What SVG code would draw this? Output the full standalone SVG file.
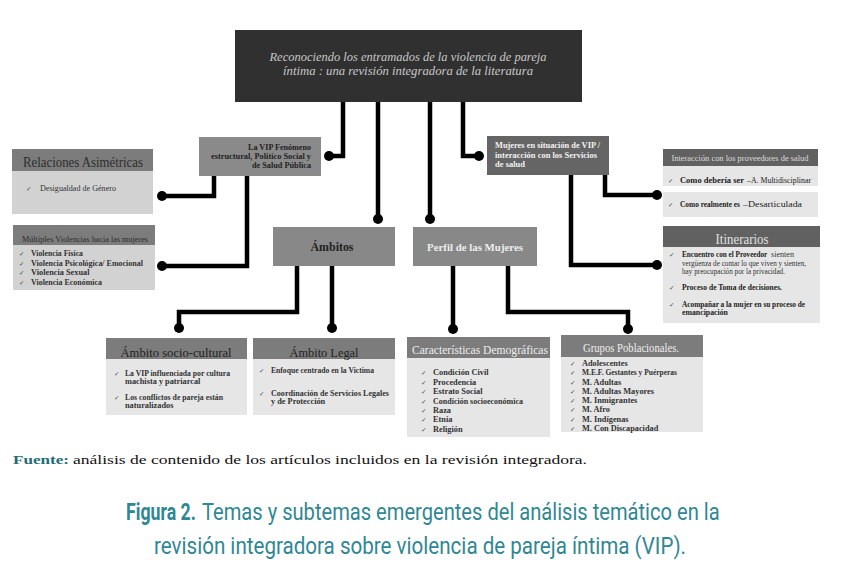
<svg xmlns="http://www.w3.org/2000/svg" width="841" height="568" viewBox="0 0 841 568">
<style>
.t{font-family:"Liberation Serif","DejaVu Serif",serif}
.it{font-family:"Liberation Serif",serif;font-size:8.3px;font-weight:bold;fill:#333}
.ck{font-family:"DejaVu Sans",sans-serif;font-size:6.5px;fill:#444}
.hd{fill:#7c7c7c}
.hdd{fill:#616161}
.bd{fill:#e6e6e6}
.bdl{fill:#d2d2d2}
.ln{fill:none;stroke:#000;stroke-width:4.5;stroke-linejoin:miter}
.cap{font-family:Roboto,"Liberation Sans",sans-serif;font-size:24px;fill:#2f8794}
</style>
<rect width="841" height="568" fill="#fff"/>

<g id="connectors">
<path class="ln" d="M343,102V156H329"/>
<path class="ln" d="M378,102V219"/>
<path class="ln" d="M430,102V219"/>
<path class="ln" d="M463,102V156H479"/>
<path class="ln" d="M214,175V196H162"/>
<path class="ln" d="M247,175V266H162"/>
<path class="ln" d="M605,175V195H657"/>
<path class="ln" d="M571,175V265H657"/>
<path class="ln" d="M297,266V312H179V328"/>
<path class="ln" d="M332,266V328"/>
<path class="ln" d="M453,266V329"/>
<path class="ln" d="M508,266V312H628V329"/>
<g fill="#000">
<circle cx="329" cy="156" r="5"/>
<circle cx="378" cy="219" r="5"/>
<circle cx="430" cy="219" r="5"/>
<circle cx="479" cy="156" r="5"/>
<circle cx="162" cy="196" r="5"/>
<circle cx="162" cy="266" r="5"/>
<circle cx="657" cy="195" r="5"/>
<circle cx="657" cy="265" r="5"/>
<circle cx="179" cy="328" r="5"/>
<circle cx="332" cy="328" r="5"/>
<circle cx="453" cy="329" r="5"/>
<circle cx="628" cy="329" r="5"/>
</g>
</g>

<g id="title">
<rect x="235" y="30" width="347" height="72" fill="#303030"/>
<text class="t" x="408" y="61" text-anchor="middle" font-size="13" font-style="italic" fill="#c8c8c8" textLength="277" lengthAdjust="spacingAndGlyphs">Reconociendo los entramados de la violencia de pareja</text>
<text class="t" x="408" y="75" text-anchor="middle" font-size="13" font-style="italic" fill="#c8c8c8" textLength="250" lengthAdjust="spacingAndGlyphs">íntima : una revisión integradora de la literatura</text>
</g>

<g id="vip">
<rect x="199" y="137" width="122" height="39" fill="#8a8a8a"/>
<g class="t" font-size="8.5" font-weight="bold" fill="#222" text-anchor="end">
<text x="311" y="150" textLength="63" lengthAdjust="spacingAndGlyphs">La VIP Fenómeno</text>
<text x="311" y="159" textLength="100" lengthAdjust="spacingAndGlyphs">estructural, Político Social y</text>
<text x="311" y="168" textLength="59" lengthAdjust="spacingAndGlyphs">de Salud Pública</text>
</g>
</g>

<g id="mujeres">
<rect x="487" y="136" width="122" height="39" fill="#656565"/>
<g class="t" font-size="8.5" font-weight="bold" fill="#f2f2f2">
<text x="495" y="148" textLength="105" lengthAdjust="spacingAndGlyphs">Mujeres en situación de VIP /</text>
<text x="495" y="158" textLength="102" lengthAdjust="spacingAndGlyphs">interacción con los Servicios</text>
<text x="495" y="167">de salud</text>
</g>
</g>

<g id="relaciones">
<rect class="hd" x="12" y="149" width="141" height="22"/>
<rect class="bdl" x="12" y="171" width="141" height="43"/>
<text class="t" x="83" y="167" text-anchor="middle" font-size="14" fill="#2e2e2e" textLength="120" lengthAdjust="spacingAndGlyphs">Relaciones Asimétricas</text>
<text class="ck" x="26" y="191">✓</text>
<text class="t" x="40" y="191" font-size="8.3" fill="#333" textLength="76" lengthAdjust="spacingAndGlyphs">Desigualdad de Género</text>
</g>

<g id="multiples">
<rect class="hd" x="13" y="225" width="142" height="20"/>
<rect class="bdl" x="13" y="245" width="142" height="45"/>
<text class="t" x="85" y="242" text-anchor="middle" font-size="8.5" fill="#2e2e2e" textLength="126" lengthAdjust="spacingAndGlyphs">Múltiples Violencias hacia las mujeres</text>
<text class="ck" x="19" y="256">✓</text><text class="it" x="31" y="256" textLength="52" lengthAdjust="spacingAndGlyphs">Violencia Física</text>
<text class="ck" x="19" y="266">✓</text><text class="it" x="31" y="266" textLength="112" lengthAdjust="spacingAndGlyphs">Violencia Psicológica/ Emocional</text>
<text class="ck" x="19" y="275">✓</text><text class="it" x="31" y="275">Violencia Sexual</text>
<text class="ck" x="19" y="285">✓</text><text class="it" x="31" y="285" textLength="71" lengthAdjust="spacingAndGlyphs">Violencia Económica</text>
</g>

<g id="ambitos">
<rect x="273" y="227" width="122" height="39" fill="#888"/>
<text class="t" x="332" y="251" text-anchor="middle" font-size="11.5" font-weight="bold" fill="#222" textLength="43" lengthAdjust="spacingAndGlyphs">Ámbitos</text>
</g>

<g id="perfil">
<rect x="413" y="227" width="124" height="39" fill="#888"/>
<text class="t" x="475" y="251" text-anchor="middle" font-size="11" font-weight="bold" fill="#eee" textLength="96" lengthAdjust="spacingAndGlyphs">Perfil de las Mujeres</text>
</g>

<g id="interaccion">
<rect class="hdd" x="663" y="149" width="155" height="17"/>
<rect class="bd" x="663" y="166" width="155" height="20"/>
<rect class="bd" x="663" y="192" width="155" height="25"/>
<text class="t" x="740" y="161" text-anchor="middle" font-size="8" fill="#dcdcdc" textLength="137" lengthAdjust="spacingAndGlyphs">Interacción con los  proveedores de salud</text>
<text class="ck" x="668" y="183">✓</text>
<text class="t" x="680" y="183" font-size="8.3" font-weight="bold" fill="#222" textLength="64" lengthAdjust="spacingAndGlyphs">Como debería ser</text>
<text class="t" x="747" y="183" font-size="8.3" fill="#222" textLength="64" lengthAdjust="spacingAndGlyphs">–A. Multidisciplinar</text>
<text class="ck" x="668" y="207">✓</text>
<text class="t" x="680" y="207" font-size="8.3" font-weight="bold" fill="#222" textLength="60" lengthAdjust="spacingAndGlyphs">Como realmente es</text>
<text class="t" x="743" y="207" font-size="8.3" fill="#222" textLength="59" lengthAdjust="spacingAndGlyphs">–Desarticulada</text>
</g>

<g id="itinerarios">
<rect class="hdd" x="663" y="226" width="157" height="21"/>
<rect class="bd" x="663" y="247" width="157" height="76"/>
<text class="t" x="742" y="244" text-anchor="middle" font-size="15" fill="#e2e2e2" textLength="53" lengthAdjust="spacingAndGlyphs">Itinerarios</text>
<text class="ck" x="669" y="257">✓</text>
<text class="t" transform="translate(682,257) scale(0.82,1)" font-size="7.8" font-weight="bold" fill="#222" textLength="104" lengthAdjust="spacingAndGlyphs">Encuentro con el Proveedor</text>
<text class="t" x="771" y="257" font-size="7.8" fill="#333" textLength="23" lengthAdjust="spacingAndGlyphs">sienten</text>
<text class="t" x="682" y="266" font-size="7.8" fill="#333" textLength="124" lengthAdjust="spacingAndGlyphs">vergüenza de contar lo que viven y sienten,</text>
<text class="t" x="682" y="274" font-size="7.8" fill="#333" textLength="103" lengthAdjust="spacingAndGlyphs">hay preocupación por la privacidad.</text>
<text class="ck" x="669" y="290">✓</text>
<text class="t" x="682" y="290" font-size="7.8" font-weight="bold" fill="#222" textLength="100" lengthAdjust="spacingAndGlyphs">Proceso de Toma de decisiones.</text>
<text class="ck" x="669" y="307">✓</text>
<text class="t" x="682" y="307" font-size="7.8" font-weight="bold" fill="#222" textLength="123" lengthAdjust="spacingAndGlyphs">Acompañar a la mujer en su proceso de</text>
<text class="t" x="682" y="315" font-size="7.8" font-weight="bold" fill="#222">emancipación</text>
</g>

<g id="sociocultural">
<rect class="hd" x="106" y="338" width="141" height="21"/>
<rect class="bd" x="106" y="359" width="141" height="56"/>
<text class="t" x="176" y="357" text-anchor="middle" font-size="13" fill="#222" textLength="111" lengthAdjust="spacingAndGlyphs">Ámbito socio-cultural</text>
<text class="ck" x="114" y="376">✓</text>
<text class="it" x="125" y="376" textLength="105" lengthAdjust="spacingAndGlyphs">La VIP influenciada por cultura</text>
<text class="it" x="125" y="384">machista y patriarcal</text>
<text class="ck" x="114" y="400">✓</text>
<text class="it" x="125" y="400" textLength="98" lengthAdjust="spacingAndGlyphs">Los conflictos de pareja están</text>
<text class="it" x="125" y="408">naturalizados</text>
</g>

<g id="legal">
<rect class="hd" x="253" y="338" width="142" height="21"/>
<rect class="bd" x="253" y="359" width="142" height="56"/>
<text class="t" x="324" y="357" text-anchor="middle" font-size="13" fill="#222" textLength="69" lengthAdjust="spacingAndGlyphs">Ámbito Legal</text>
<text class="ck" x="259" y="373">✓</text>
<text class="it" x="271" y="373" textLength="103" lengthAdjust="spacingAndGlyphs">Enfoque centrado en la Victima</text>
<text class="ck" x="259" y="396">✓</text>
<text class="it" x="271" y="396" textLength="118" lengthAdjust="spacingAndGlyphs">Coordinación de Servicios Legales</text>
<text class="it" x="271" y="404">y de Protección</text>
</g>

<g id="caracteristicas">
<rect class="hd" x="407" y="337" width="143" height="21"/>
<rect class="bd" x="407" y="358" width="143" height="79"/>
<text class="t" x="480" y="354" text-anchor="middle" font-size="12" fill="#eee" textLength="136" lengthAdjust="spacingAndGlyphs">Características Demográficas</text>
<text class="ck" x="421" y="375">✓</text><text class="it" x="433" y="375">Condición Civil</text>
<text class="ck" x="421" y="385">✓</text><text class="it" x="433" y="385">Procedencia</text>
<text class="ck" x="421" y="394">✓</text><text class="it" x="433" y="394">Estrato Social</text>
<text class="ck" x="421" y="404">✓</text><text class="it" x="433" y="404" textLength="90" lengthAdjust="spacingAndGlyphs">Condición socioeconómica</text>
<text class="ck" x="421" y="413">✓</text><text class="it" x="433" y="413">Raza</text>
<text class="ck" x="421" y="422">✓</text><text class="it" x="433" y="422">Etnia</text>
<text class="ck" x="421" y="432">✓</text><text class="it" x="433" y="432">Religión</text>
</g>

<g id="grupos">
<rect class="hd" x="561" y="335" width="142" height="22"/>
<rect class="bd" x="561" y="357" width="142" height="75"/>
<text class="t" x="631" y="352" text-anchor="middle" font-size="11.5" fill="#eee" textLength="96" lengthAdjust="spacingAndGlyphs">Grupos Poblacionales.</text>
<text class="ck" x="570" y="366">✓</text><text class="it" x="582" y="366">Adolescentes</text>
<text class="ck" x="570" y="375">✓</text><text class="it" x="582" y="375" textLength="95" lengthAdjust="spacingAndGlyphs">M.E.F. Gestantes y Puérperas</text>
<text class="ck" x="570" y="385">✓</text><text class="it" x="582" y="385">M. Adultas</text>
<text class="ck" x="570" y="394">✓</text><text class="it" x="582" y="394">M. Adultas Mayores</text>
<text class="ck" x="570" y="403">✓</text><text class="it" x="582" y="403">M. Inmigrantes</text>
<text class="ck" x="570" y="412">✓</text><text class="it" x="582" y="412">M. Afro</text>
<text class="ck" x="570" y="422">✓</text><text class="it" x="582" y="422">M. Indígenas</text>
<text class="ck" x="570" y="431">✓</text><text class="it" x="582" y="431">M.  Con Discapacidad</text>
</g>

<g id="fuente">
<text class="t" x="13" y="464" font-size="13" font-weight="bold" fill="#1f6d78" textLength="56" lengthAdjust="spacingAndGlyphs">Fuente:</text>
<text class="t" x="73" y="464" font-size="13" fill="#111" textLength="514" lengthAdjust="spacingAndGlyphs">análisis de contenido de los artículos incluidos en la revisión integradora.</text>
</g>

<g id="caption">
<text class="cap" transform="translate(126,520) scale(0.72,1)" font-weight="bold" textLength="97" lengthAdjust="spacingAndGlyphs">Figura 2.</text>
<text class="cap" transform="translate(202,520) scale(0.8,1)" textLength="647" lengthAdjust="spacingAndGlyphs">Temas y subtemas emergentes del análisis temático en la</text>
<text class="cap" transform="translate(420,554) scale(0.8,1)" text-anchor="middle" textLength="665" lengthAdjust="spacingAndGlyphs">revisión integradora sobre violencia de pareja íntima (VIP).</text>
</g>
</svg>
